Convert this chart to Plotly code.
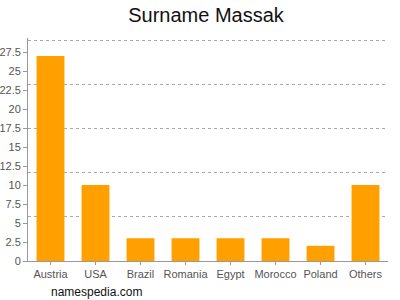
import plotly.graph_objects as go

countries = ["Austria", "USA", "Brazil", "Romania", "Egypt", "Morocco", "Poland", "Others"]
counts = [27, 10, 3, 3, 3, 3, 2, 10]
ytick_vals = [0, 2.5, 5, 7.5, 10, 12.5, 15, 17.5, 20, 22.5, 25, 27.5]
ytick_text = ["0", "2.5", "5", "7.5", "10", "12.5", "15", "17.5", "20", "22.5", "25", "27.5"]
grid_top = 29.08
y_max = 29.38

fig = go.Figure()
fig.add_trace(go.Bar(x=countries, y=counts, marker=dict(color="#FFA000", line=dict(width=0)),
                     hoverinfo="x+y"))
# invisible trace for grid axis
fig.add_trace(go.Scatter(x=[countries[0]], y=[0], yaxis="y2", mode="markers",
                         marker=dict(opacity=0), showlegend=False, hoverinfo="skip"))

font_family = "Liberation Sans, Arial, sans-serif"
fig.update_layout(
    width=400, height=300,
    margin=dict(l=28, r=12, t=38, b=39),
    paper_bgcolor="white", plot_bgcolor="white",
    showlegend=False,
    bargap=0.38,
    title=dict(text="Surname Massak", x=0.515, xanchor="center", y=0.95, yanchor="middle",
               font=dict(family=font_family, size=20, color="#111")),
    font=dict(family=font_family, size=11, color="#555"),
    xaxis=dict(showline=True, linecolor="#999", linewidth=1, ticks="outside", ticklen=3,
               tickcolor="#999", tickfont=dict(size=11, color="#555"), showgrid=False,
               automargin=False),
    yaxis=dict(range=[0, y_max], tickmode="array", tickvals=ytick_vals, ticktext=ytick_text,
               showline=True, linecolor="#999", linewidth=1, ticks="outside", ticklen=4,
               tickcolor="#999", showgrid=False, zeroline=False, automargin=False,
               ticklabelstandoff=0,
               tickfont=dict(size=11, color="#555")),
    yaxis2=dict(range=[0, y_max], overlaying="y", side="right", tick0=0, dtick=grid_top / 5,
                showgrid=True, gridcolor="#aaa", griddash="3px,3px", gridwidth=1, automargin=False,
                showticklabels=False, ticks="", zeroline=False, showline=False),
    annotations=[dict(text="namespedia.com", xref="paper", yref="paper", x=0.058, y=-0.137,
                      xanchor="left", yanchor="middle", showarrow=False,
                      font=dict(family=font_family, size=12, color="#111"))],
)
fig.write_html("out.html")
